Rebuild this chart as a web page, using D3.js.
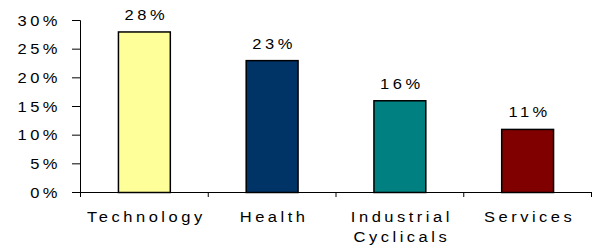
<!DOCTYPE html>
<html>
<head>
<meta charset="utf-8">
<script src="https://cdn.jsdelivr.net/npm/d3@7"></script>
<style>
  body { margin: 0; background: #fff; }
  svg text { font-family: "Liberation Sans", Arial, sans-serif; font-size: 15px; fill: #000; }
</style>
</head>
<body>
<svg id="chart"></svg>
<script>
// data
var categories = ["Technology", "Health", "Industrial\nCyclicals", "Services"];
var values = [28, 23, 16, 11];
var colors = ["#ffff99", "#003366", "#008080", "#800000"];
var yTicks = [0, 5, 10, 15, 20, 25, 30];

var width = 592;
var height = 247;
var stretch = 1.1;
var spacing = 3.2;

var svg = d3.select("#chart")
  .attr("width", width)
  .attr("height", height);

var x = d3.scaleBand()
  .domain(categories)
  .range([80.5, 591.5])
  .paddingInner(0.594)
  .paddingOuter(0.297);

var y = d3.scaleLinear()
  .domain([0, 30])
  .range([192.5, 20.5]);

// wide, spaced out text like the original
function label(sel, px, py, str, anchor) {
  return sel.append("text")
    .attr("transform", "translate(" + px + "," + py + ") scale(" + stretch + ",1)")
    .attr("text-anchor", anchor)
    .style("letter-spacing", spacing + "px")
    .text(str);
}

// y axis
svg.append("line")
  .attr("x1", 80.5).attr("x2", 80.5)
  .attr("y1", y(30)).attr("y2", 197)
  .attr("stroke", "#000");

yTicks.forEach(function (t) {
  svg.append("line")
    .attr("x1", 72).attr("x2", 80.5)
    .attr("y1", y(t)).attr("y2", y(t))
    .attr("stroke", "#000");
  label(svg, 61, y(t) + 5, t + "%", "end");
});

// bars
svg.selectAll(".bar")
  .data(values)
  .enter()
  .append("rect")
  .attr("class", "bar")
  .attr("x", function (d, i) { return x(categories[i]); })
  .attr("width", x.bandwidth())
  .attr("y", function (d) { return y(d); })
  .attr("height", function (d) { return y(0) - y(d); })
  .attr("fill", function (d, i) { return colors[i]; })
  .attr("stroke", "#000")
  .attr("stroke-width", 1.5);

// value labels
values.forEach(function (v, i) {
  label(svg, x(categories[i]) + x.bandwidth() / 2 + 2, y(v) - 12, v + "%", "middle");
});

// x axis
svg.append("line")
  .attr("x1", 72).attr("x2", width)
  .attr("y1", y(0)).attr("y2", y(0))
  .attr("stroke", "#000");

var step = x.step();
d3.range(categories.length + 1).forEach(function (i) {
  var px = 80.5 + i * step;
  svg.append("line")
    .attr("x1", px).attr("x2", px)
    .attr("y1", y(0)).attr("y2", 197)
    .attr("stroke", "#000");
});

categories.forEach(function (c) {
  var cx = x(c) + x.bandwidth() / 2 + 2;
  c.split("\n").forEach(function (line, j) {
    label(svg, cx, 222 + j * 20, line, "middle");
  });
});
</script>
</body>
</html>
